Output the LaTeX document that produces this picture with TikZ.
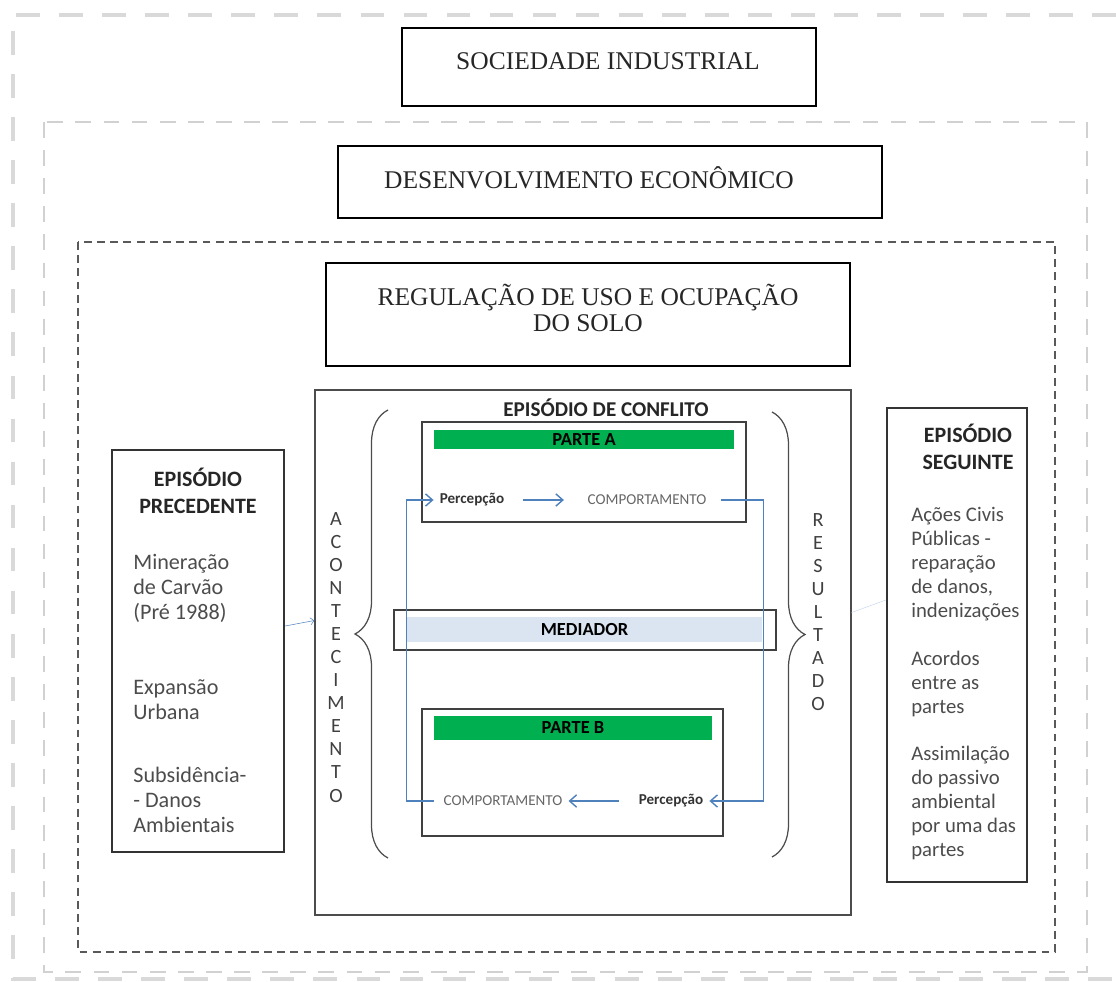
\documentclass[tikz,border=0pt]{standalone}
\usepackage{fontspec}
\setmainfont{Carlito}
\newfontfamily\timesfont{Liberation Serif}
\usepackage{xcolor}
\usetikzlibrary{arrows.meta, decorations.pathreplacing}
\definecolor{partgreen}{HTML}{00B050}
\definecolor{mediablue}{HTML}{DBE5F1}
\definecolor{flowblue}{HTML}{4F81BD}
\tikzstyle{bigbox} = [rectangle, draw=black, line width=1.6pt, inner sep=0pt]
\tikzstyle{bigtext} = [font=\timesfont\fontsize{14.5}{14.8}\selectfont, align=center, text=black!85]
\tikzstyle{sidebox} = [rectangle, draw=black!80, line width=1.4pt, inner sep=0pt]
\tikzstyle{sidetitle} = [font=\bfseries\fontsize{12.5}{15.4}\selectfont, align=center, text=black!85]
\tikzstyle{sidetext} = [font=\fontsize{12.6}{14.2}\selectfont, align=left, anchor=west, inner sep=0pt, text=black!70]
\tikzstyle{partbox} = [rectangle, draw=black!75, line width=0.9pt, inner sep=0pt]
\tikzstyle{greenbar} = [rectangle, fill=partgreen, inner sep=0pt, font=\bfseries\fontsize{10.5}{12}\selectfont]
\tikzstyle{percep} = [font=\bfseries\fontsize{8.6}{10}\selectfont, text=black!80]
\tikzstyle{comport} = [font=\fontsize{8.6}{10}\selectfont, text=black!60]
\tikzstyle{flow} = [draw=flowblue, line width=0.8pt, -{Straight Barb[length=4pt,width=7pt]}]
\tikzstyle{link} = [draw=flowblue!30, line width=0.3pt]
\tikzstyle{vertword} = [font=\fontsize{11.5}{13.1}\selectfont, align=center, text=black!75]
\tikzstyle{brace} = [decorate, decoration={brace, amplitude=0.66cm}, draw=black!70, line width=0.7pt]

\begin{document}
\begin{tikzpicture}[x=0.02cm, y=-0.02cm]
   \useasboundingbox (0,0) rectangle (1116,982);
   \draw [black!15, line width=2.3pt, dash pattern=on 13.5pt off 11pt] (1116,15) -- (13,15) -- (13,979) -- (1116,979);
   \draw [black!18, line width=1.2pt, dash pattern=on 9pt off 7pt] (44,122) rectangle (1087,972);
   \draw [black!65, line width=0.6pt, dash pattern=on 4.5pt off 3pt] (78,242) rectangle (1055,952);

   \node (soc) [bigbox, minimum width=8.28cm, minimum height=1.56cm] at (609,67) {};
   \node (socTxt) [bigtext] at (608,61) {SOCIEDADE INDUSTRIAL};
   \node (des) [bigbox, minimum width=10.88cm, minimum height=1.44cm] at (610,182) {};
   \node (desTxt) [bigtext] at (589,178) {DESENVOLVIMENTO ECONÔMICO};
   \node (reg) [bigbox, minimum width=10.48cm, minimum height=2.06cm] at (588,314.5) {};
   \node (regTxt) [bigtext] at (588,308) {REGULAÇÃO DE USO E OCUPAÇÃO\\DO SOLO};

   \node (conf) [rectangle, draw=black!70, line width=0.8pt, minimum width=10.72cm, minimum height=10.5cm] at (583,652.5) {};
   \node (confTxt) [sidetitle, font=\bfseries\fontsize{12}{14}\selectfont] at (606,408) {EPISÓDIO DE CONFLITO};

   \node (partA) [partbox, minimum width=6.48cm, minimum height=2cm] at (584,472) {};
   \node (barA) [greenbar, minimum width=6cm, minimum height=0.38cm] at (584,439.5) {PARTE A};
   \node (percA) [percep] at (472,500) {Percepção};
   \node (compA) [comport] at (647,500) {COMPORTAMENTO};
   \draw [flow, shorten <=7pt, shorten >=10pt] (percA) -- (compA);

   \node (med) [rectangle, draw=black!75, line width=0.9pt, minimum width=7.64cm, minimum height=0.8cm] at (585,630) {};
   \node (medBar) [rectangle, fill=mediablue, minimum width=7.1cm, minimum height=0.5cm, font=\bfseries\fontsize{10.5}{12}\selectfont] at (584.5,629.5) {MEDIADOR};

   \node (partB) [partbox, minimum width=6.02cm, minimum height=2.54cm] at (572.5,772.5) {};
   \node (barB) [greenbar, minimum width=5.56cm, minimum height=0.48cm] at (573,728) {PARTE B};
   \node (compB) [comport] at (503,801) {COMPORTAMENTO};
   \node (percB) [percep] at (671,801) {Percepção};
   \draw [flow, shorten <=8pt, shorten >=0pt] (percB) -- (compB);

   \draw [flow, shorten <=5pt] (compA.east) -- ++(51,0) |- (percB.east);
   \draw [flow, shorten <=2pt] (compB.west) -- ++(-31,0) |- (percA.west);

   \draw [brace] (388,858) -- (388,410);
   \draw [brace] (772,412) -- (772,857);
   \node (acont) [vertword] at (336,657.5) {A\\C\\O\\N\\T\\E\\C\\I\\M\\E\\N\\T\\O};
   \node (resul) [vertword] at (818,612.5) {R\\E\\S\\U\\L\\T\\A\\D\\O};

   \node (prec) [sidebox, minimum width=3.44cm, minimum height=8.04cm] at (198,651) {};
   \node (precT) [sidetitle] at (198,491) {EPISÓDIO\\PRECEDENTE};
   \node (prec1) [sidetext] at (133,588) {Mineração\\de Carvão\\(Pré 1988)};
   \node (prec2) [sidetext] at (133,700) {Expansão\\Urbana};
   \node (prec3) [sidetext] at (133,800) {Subsidência-\\- Danos\\Ambientais};

   \node (seg) [sidebox, minimum width=2.8cm, minimum height=9.48cm] at (957,645) {};
   \node (segT) [sidetitle] at (968,447) {EPISÓDIO\\SEGUINTE};
   \node (seg1) [sidetext, font=\fontsize{11.8}{13.7}\selectfont] at (911,564) {Ações Civis\\Públicas -\\reparação\\de danos,\\indenizações};
   \node (seg2) [sidetext, font=\fontsize{11.8}{13.7}\selectfont] at (911,684) {Acordos\\entre as\\partes};
   \node (seg3) [sidetext, font=\fontsize{11.8}{13.7}\selectfont] at (911,803) {Assimilação\\do passivo\\ambiental\\por uma das\\partes};

   \draw [link, -{Straight Barb[length=2pt,width=4pt]}, flowblue] ([yshift=0.5cm]prec.east) -- ([yshift=0.64cm]conf.west);
   \draw [link] ([yshift=0.8cm]conf.east) -- ([yshift=0.9cm]seg.west);
\end{tikzpicture}
\end{document}
